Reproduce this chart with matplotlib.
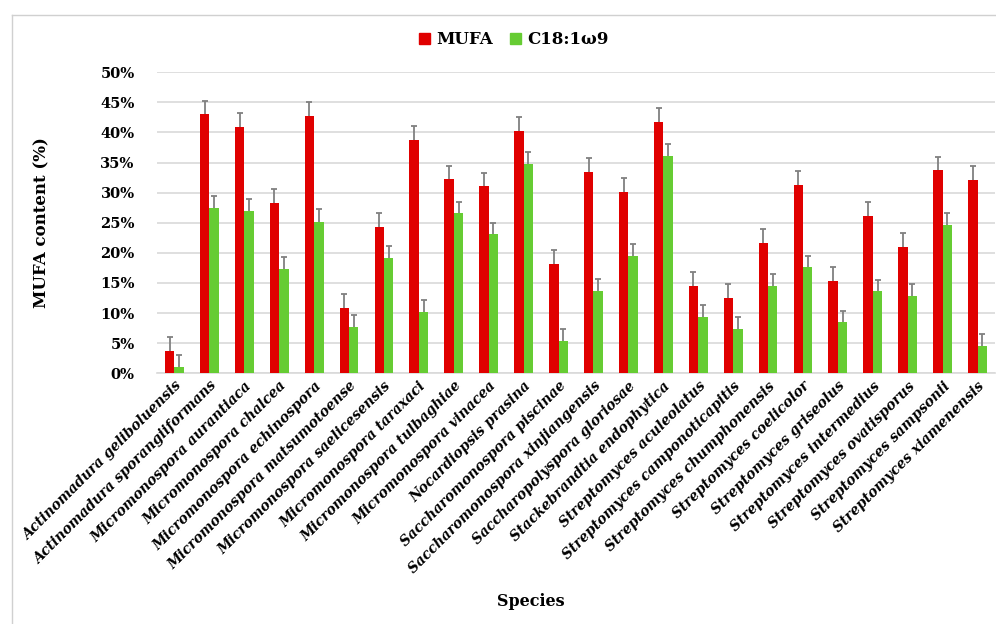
import numpy as np
import matplotlib
matplotlib.use("Agg")
import matplotlib.pyplot as plt
from matplotlib.lines import Line2D
from matplotlib.patches import Patch

species = [
    "Actinomadura geliboluensis", "Actinomadura sporangiiformans",
    "Micromonospora aurantiaca", "Micromonospora chalcea",
    "Micromonospora echinospora", "Micromonospora matsumotoense",
    "Micromonospora saelicesensis", "Micromonospora taraxaci",
    "Micromonospora tulbaghiae", "Micromonospora vinacea",
    "Nocardiopsis prasina", "Saccharomonospora piscinae",
    "Saccharomonospora xinjiangensis", "Saccharopolyspora gloriosae",
    "Stackebrandtia endophytica", "Streptomyces aculeolatus",
    "Streptomyces camponoticapitis", "Streptomyces chumphonensis",
    "Streptomyces coelicolor", "Streptomyces griseolus",
    "Streptomyces intermedius", "Streptomyces ovatisporus",
    "Streptomyces sampsonii", "Streptomyces xiamenensis",
]
mufa = [3.7, 43.0, 40.9, 28.3, 42.8, 10.8, 24.3, 38.7, 32.2, 31.1, 40.2, 18.2,
        33.4, 30.1, 41.7, 14.5, 12.5, 21.6, 31.3, 15.3, 26.1, 21.0, 33.7, 32.1]
mufa_err = [2.3, 2.3, 2.3, 2.3, 2.3, 2.3, 2.4, 2.3, 2.3, 2.2, 2.3, 2.2,
            2.4, 2.3, 2.3, 2.4, 2.4, 2.4, 2.3, 2.3, 2.3, 2.3, 2.3, 2.3]
c18 = [1.1, 27.5, 26.9, 17.4, 25.2, 7.7, 19.2, 10.1, 26.6, 23.1, 34.8, 5.4,
       13.7, 19.5, 36.1, 9.4, 7.4, 14.5, 17.6, 8.5, 13.6, 12.8, 24.7, 4.5]
c18_err = [2.0, 2.0, 2.0, 1.9, 2.1, 2.0, 1.9, 2.0, 1.9, 1.9, 2.0, 2.0,
           2.0, 2.0, 2.0, 1.9, 1.9, 2.0, 1.9, 1.9, 1.9, 2.0, 2.0, 2.0]
yticks = [0, 5, 10, 15, 20, 25, 30, 35, 40, 45, 50]

plt.rcParams['font.family'] = ['DejaVu Serif']

red = '#E00000'
green = '#66CC33'
errc = '#808080'

fig = plt.figure(figsize=(9.96, 6.24), dpi=100)
ax = fig.add_axes([157/996, 1 - 373.3/624, (995 - 157)/996, (373.3 - 72.3)/624])

x = np.arange(len(species))
w = 0.27


def bars_with_err(xpos, vals, errs, color):
    vals = np.array(vals)
    errs = np.array(errs)
    ax.bar(xpos, vals, w, color=color, zorder=2)
    # upper error bar only
    ax.vlines(xpos, vals, vals + errs, color=errc, lw=1.3, zorder=3)
    ax.scatter(xpos, vals + errs, marker='_', s=25, color=errc,
               linewidths=1.3, zorder=3)


bars_with_err(x - w/2, mufa, mufa_err, red)
bars_with_err(x + w/2, c18, c18_err, green)

ax.set_xlim(-0.5, len(species) - 0.5)
ax.set_ylim(0, 50)
ax.set_yticks(yticks)
ax.set_yticklabels([f"{t}%" for t in yticks], fontsize=10.5, fontweight='bold')
ax.yaxis.grid(True, color='#d9d9d9', linewidth=1.2, zorder=0)
ax.set_axisbelow(True)
for s in ['top', 'right', 'left']:
    ax.spines[s].set_visible(False)
ax.spines['bottom'].set_color('#d9d9d9')
ax.spines['bottom'].set_linewidth(1.2)
ax.spines['bottom'].set_zorder(1)
ax.tick_params(axis='both', length=0, pad=16)
ax.tick_params(axis='x', pad=4)
ax.set_xticks(x)
ax.set_xticklabels(species, rotation=45, ha='right', rotation_mode='anchor',
                   fontsize=10, fontweight='bold', fontstyle='italic')

fig.text(42/996, 1 - 223/624, 'MUFA content (%)', rotation=90, ha='center',
         va='center', fontsize=12, fontweight='bold')
fig.text(531/996, 1 - 601/624, 'Species', ha='center', va='center',
         fontsize=11.5, fontweight='bold')

handles = [Patch(color=red), Patch(color=green)]
fig.legend(handles, ['MUFA', 'C18:1\u03c99'], loc='center',
           bbox_to_anchor=(514/996, 1 - 40/624), ncol=2, frameon=False,
           handlelength=0.65, handleheight=0.65, handletextpad=0.4,
           columnspacing=1.0, prop=dict(size=12, weight='bold'))

# light frame around the figure
fig.add_artist(Line2D([12/996, 12/996], [0, 1 - 15/624], color='#d0d0d0', lw=1))
fig.add_artist(Line2D([12/996, 1], [1 - 15/624, 1 - 15/624], color='#d0d0d0', lw=1))

fig.savefig('out.png', dpi=100)
